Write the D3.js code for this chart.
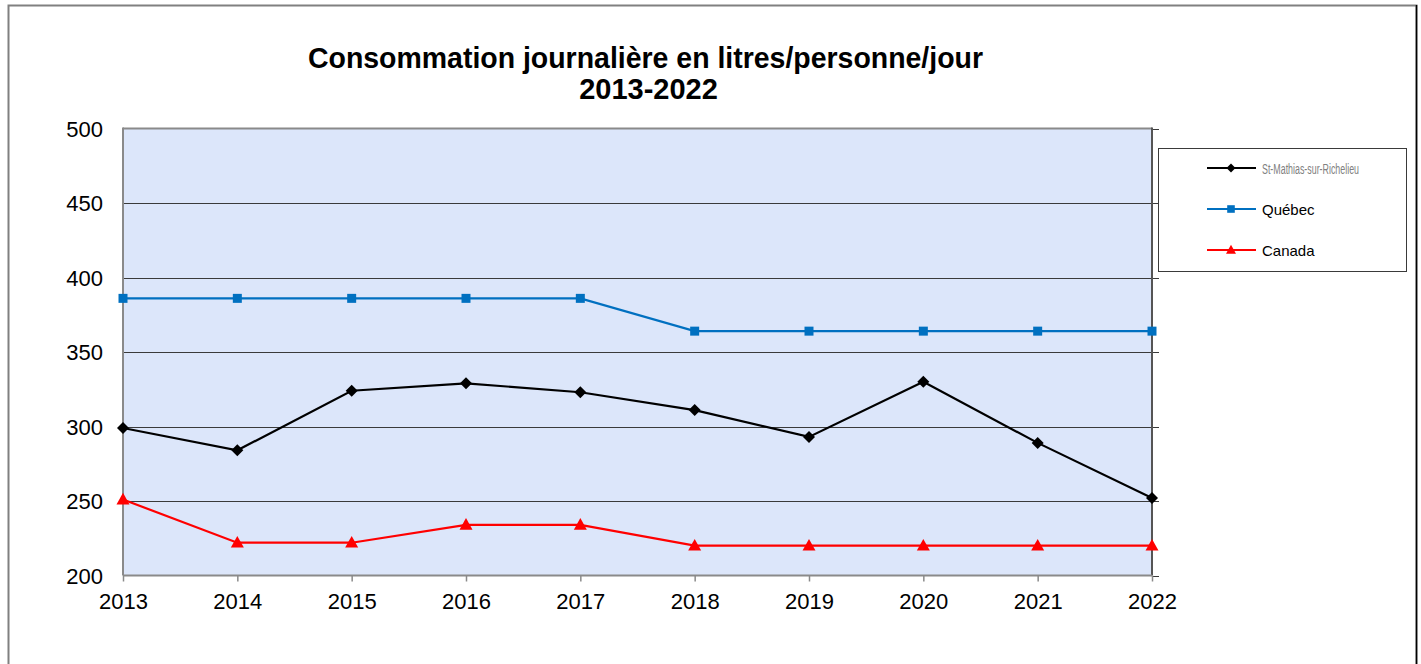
<!DOCTYPE html>
<html>
<head>
<meta charset="utf-8">
<script src="https://cdn.jsdelivr.net/npm/d3@7"></script>
<style>
  html, body { margin: 0; padding: 0; background: #fff; }
  svg { display: block; font-family: "Liberation Sans", Arial, sans-serif; }
</style>
</head>
<body>
<svg id="chart" width="1421" height="664"></svg>
<script>
// Daily water consumption, litres per person per day
const years = ["2013", "2014", "2015", "2016", "2017", "2018", "2019", "2020", "2021", "2022"];
const stMathias = [299, 284, 324, 329, 323, 311, 293, 330, 289, 252];
const quebec = [386, 386, 386, 386, 386, 364, 364, 364, 364, 364];
const canada = [251, 222, 222, 234, 234, 220, 220, 220, 220, 220];
const yTicks = [200, 250, 300, 350, 400, 450, 500];
const seriesNames = ["St-Mathias-sur-Richelieu", "Québec", "Canada"];

// Marker shapes; "size" here is the half-width of the marker in pixels
const diamond = {
  draw(ctx, r) {
    ctx.moveTo(0, -r); ctx.lineTo(r, 0); ctx.lineTo(0, r); ctx.lineTo(-r, 0); ctx.closePath();
  }
};
const square = {
  draw(ctx, r) {
    ctx.moveTo(-r, -r); ctx.lineTo(r, -r); ctx.lineTo(r, r); ctx.lineTo(-r, r); ctx.closePath();
  }
};
const triangle = {
  draw(ctx, r) {
    ctx.moveTo(0, -r * 1.05); ctx.lineTo(r, r * 0.75); ctx.lineTo(-r, r * 0.75); ctx.closePath();
  }
};

const series = [
  { name: seriesNames[0], values: stMathias, color: "#000000", symbol: diamond, r: 6, lr: 4.5 },
  { name: seriesNames[1], values: quebec, color: "#0070C0", symbol: square, r: 4.5, lr: 3.8 },
  { name: seriesNames[2], values: canada, color: "#FF0000", symbol: triangle, r: 6.5, lr: 5 }
];

const svg = d3.select("#chart");

// Outer chart frame
svg.append("rect")
  .attr("x", 8.5).attr("y", 5.5).attr("width", 1408).attr("height", 700)
  .attr("fill", "#fff").attr("stroke", "#808080").attr("stroke-width", 2);
svg.append("line")
  .attr("x1", 1416.5).attr("x2", 1416.5).attr("y1", 5).attr("y2", 664)
  .attr("stroke", "#000").attr("stroke-width", 1.5);

const plot = { left: 123, right: 1152, top: 128.5, bottom: 575.5 };

const x = d3.scalePoint().domain(years).range([plot.left, plot.right]);
const y = d3.scaleLinear().domain([200, 500]).range([plot.bottom, plot.top]);

// Plot area background
svg.append("rect")
  .attr("x", plot.left).attr("y", plot.top)
  .attr("width", plot.right - plot.left).attr("height", plot.bottom - plot.top)
  .attr("fill", "#DCE6FA");

// Horizontal gridlines, extending slightly past the right edge as tick marks
svg.append("g").selectAll("line")
  .data(yTicks.filter(t => t > 200 && t < 500))
  .join("line")
  .attr("x1", plot.left).attr("x2", plot.right + 7)
  .attr("y1", d => Math.round(y(d)) + 0.5).attr("y2", d => Math.round(y(d)) + 0.5)
  .attr("stroke", "#3a3a3a").attr("stroke-width", 1);

// Right-side tick marks at top and bottom
[200, 500].forEach(t => {
  svg.append("line")
    .attr("x1", plot.right).attr("x2", plot.right + 7)
    .attr("y1", Math.round(y(t)) + 0.5).attr("y2", Math.round(y(t)) + 0.5)
    .attr("stroke", "#3a3a3a");
});

// Plot borders
svg.append("line").attr("x1", plot.left).attr("x2", plot.right)
  .attr("y1", plot.top).attr("y2", plot.top)
  .attr("stroke", "#8a8a8a").attr("stroke-width", 2);
svg.append("line").attr("x1", plot.left).attr("x2", plot.left)
  .attr("y1", plot.top - 1).attr("y2", plot.bottom)
  .attr("stroke", "#8a8a8a").attr("stroke-width", 2);
svg.append("line").attr("x1", plot.right).attr("x2", plot.right)
  .attr("y1", plot.top - 1).attr("y2", plot.bottom)
  .attr("stroke", "#555").attr("stroke-width", 2);
svg.append("line").attr("x1", plot.left).attr("x2", plot.right)
  .attr("y1", plot.bottom).attr("y2", plot.bottom)
  .attr("stroke", "#8a8a8a").attr("stroke-width", 2);

// Y axis labels
const yAxis = d3.axisLeft(y).tickValues(yTicks).tickSize(0).tickPadding(20);
const gy = svg.append("g").attr("transform", `translate(${plot.left},0)`).call(yAxis);
gy.select(".domain").remove();
gy.selectAll("text")
  .attr("font-size", 22).attr("fill", "#000").attr("dy", "0.36em")
  .attr("font-family", "'Liberation Sans', Arial, sans-serif");

// X axis with downward ticks
const xAxis = d3.axisBottom(x).tickSize(6).tickPadding(12);
const gx = svg.append("g").attr("transform", `translate(0,${plot.bottom})`).call(xAxis);
gx.select(".domain").remove();
gx.selectAll("line").attr("stroke", "#8a8a8a").attr("stroke-width", 1.5);
gx.selectAll("text")
  .attr("font-size", 22).attr("fill", "#000")
  .attr("font-family", "'Liberation Sans', Arial, sans-serif");

// Series lines and markers
const line = d3.line().x((d, i) => x(years[i])).y(d => y(d));
series.forEach(s => {
  svg.append("path")
    .datum(s.values)
    .attr("d", line)
    .attr("fill", "none")
    .attr("stroke", s.color)
    .attr("stroke-width", 2.2);
  svg.append("g").selectAll("path")
    .data(s.values)
    .join("path")
    .attr("d", d3.symbol().type(s.symbol).size(s.r))
    .attr("transform", (d, i) => `translate(${x(years[i])},${y(d)})`)
    .attr("fill", s.color);
});

// Title
const title = svg.append("text")
  .attr("text-anchor", "middle")
  .attr("font-weight", "bold").attr("font-size", 29).attr("fill", "#000");
title.append("tspan").attr("x", 645.5).attr("y", 68)
  .attr("textLength", 675).attr("lengthAdjust", "spacingAndGlyphs")
  .text("Consommation journalière en litres/personne/jour");
title.append("tspan").attr("x", 648.5).attr("y", 99).text("2013-2022");

// Legend
const legend = svg.append("g");
legend.append("rect")
  .attr("x", 1158.5).attr("y", 148.5).attr("width", 248).attr("height", 123)
  .attr("fill", "#fff").attr("stroke", "#3a3a3a").attr("stroke-width", 1);
const rowY = [168, 209, 250];
series.forEach((s, i) => {
  const g = legend.append("g").attr("transform", `translate(0,${rowY[i]})`);
  g.append("line").attr("x1", 1207).attr("x2", 1256).attr("y1", 0).attr("y2", 0)
    .attr("stroke", s.color).attr("stroke-width", 2);
  g.append("path")
    .attr("d", d3.symbol().type(s.symbol).size(s.lr))
    .attr("transform", "translate(1231,0)")
    .attr("fill", s.color);
  const t = g.append("text").attr("x", 1262).attr("y", 5.5)
    .attr("font-size", 15).text(s.name);
  if (i === 0) {
    t.attr("fill", "#808080").attr("font-size", 14)
      .attr("textLength", 97).attr("lengthAdjust", "spacingAndGlyphs");
  } else {
    t.attr("fill", "#000");
  }
});
</script>
</body>
</html>
